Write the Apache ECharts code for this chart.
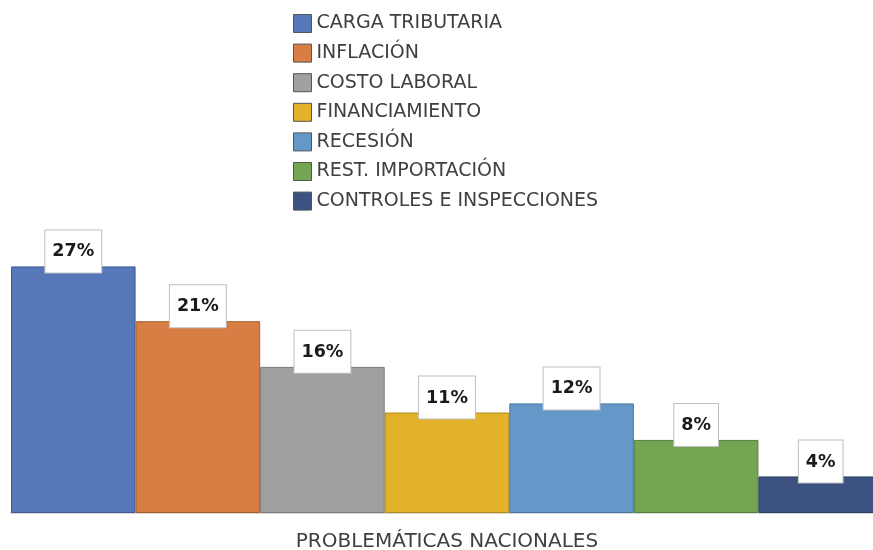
<!DOCTYPE html>
<html>
<head>
<meta charset="utf-8">
<script src="https://cdn.jsdelivr.net/npm/echarts@6/dist/echarts.min.js"></script>
<style>
  html, body { margin: 0; padding: 0; background: #fff; }
  #main { width: 873px; height: 550px; }
</style>
</head>
<body>
<div id="main"></div>
<script>
// one category, seven series
var categories = ['PROBLEMÁTICAS NACIONALES'];
var seriesNames = ['CARGA TRIBUTARIA', 'INFLACIÓN', 'COSTO LABORAL', 'FINANCIAMIENTO',
  'RECESIÓN', 'REST. IMPORTACIÓN', 'CONTROLES E INSPECCIONES'];
var values = [27, 21, 16, 11, 12, 8, 4];
var colors = ['#5677b8', '#d67e43', '#a0a0a0', '#e2b22a', '#6398c9', '#73a553', '#3c5280'];
var borders = ['#3f5b92', '#a85f2e', '#7c7c7c', '#b08a1c', '#4a78a2', '#56803c', '#2a3c60'];

var chartDom = document.getElementById('main');
var myChart = echarts.init(chartDom);
var font = '"DejaVu Sans", sans-serif';

var series = seriesNames.map(function (name, i) {
  return {
    name: name,
    type: 'bar',
    barGap: '0%',
    barCategoryGap: '0%',
    data: [values[i]],
    itemStyle: { color: colors[i], borderColor: borders[i], borderWidth: 1 },
    label: {
      show: true,
      position: 'top',
      distance: -6,
      formatter: '{c}%',
      fontFamily: font,
      fontSize: 17.5,
      fontWeight: 'bold',
      color: '#1a1a1a',
      lineHeight: 21,
      backgroundColor: '#fff',
      borderColor: '#bfbfbf',
      borderWidth: 1,
      padding: [11, 7, 10, 7]
    }
  };
});

var option = {
  animation: false,
  color: colors,
  legend: {
    orient: 'vertical',
    left: 288,
    top: 9,
    icon: 'rect',
    itemWidth: 18,
    itemHeight: 18,
    itemGap: 10.6,
    data: seriesNames,
    itemStyle: { borderColor: '#555', borderWidth: 1 },
    textStyle: { fontFamily: font, fontSize: 19, color: '#404040', lineHeight: 18 }
  },
  grid: {
    // last bar runs past the right edge in the original
    outerBoundsMode: 'none',
    left: 11,
    right: -10,
    top: 239,
    bottom: 37
  },
  xAxis: {
    type: 'category',
    data: categories,
    axisLine: { lineStyle: { color: '#d9d9d9', width: 2 } },
    axisTick: { show: false },
    axisLabel: { fontFamily: font, fontSize: 20, color: '#404040', margin: 19 }
  },
  yAxis: {
    type: 'value',
    min: 0,
    max: 30,
    show: false,
    splitLine: { show: false }
  },
  series: series
};

option && myChart.setOption(option);
</script>
</body>
</html>
